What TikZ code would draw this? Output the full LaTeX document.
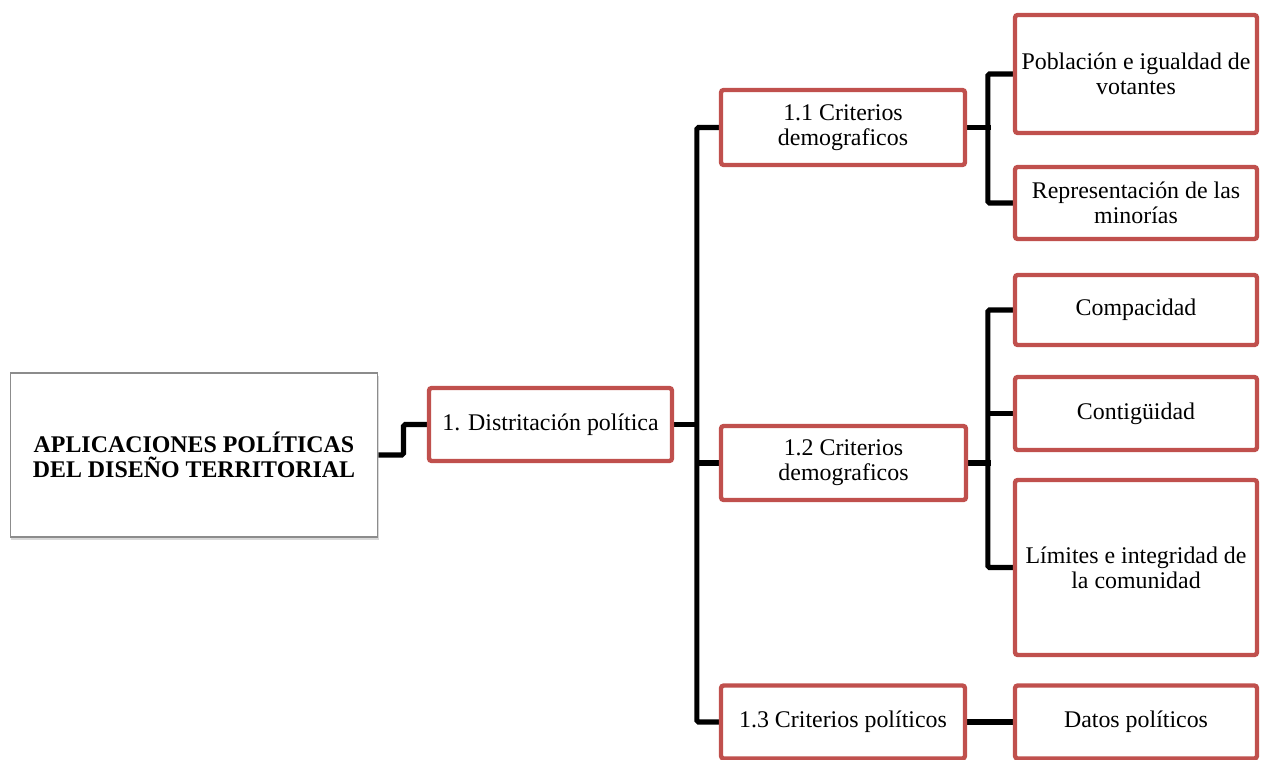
\documentclass[tikz,border=0pt]{standalone}
\usepackage{fontspec}
\setmainfont{Liberation Serif}
\usetikzlibrary{positioning, calc, shadows, backgrounds}
\definecolor{rojo}{HTML}{C0504D}

\begin{document}
\begin{tikzpicture}[x=0.02cm, y=-0.02cm,
    caja/.style={draw=rojo, line width=2.5pt, rounded corners=1.5pt, fill=white,
        align=center, inner sep=2pt, font=\fontsize{13.6}{14.4}\selectfont},
    raiz/.style={draw=gray!90, line width=0.6pt, fill=white, align=center,
        font=\bfseries\fontsize{13.6}{14}\selectfont,
        drop shadow={shadow xshift=0.6pt, shadow yshift=-1.8pt, opacity=0.3, fill=gray}},
    linea/.style={line width=2.9pt, rounded corners=1pt}
]
    \useasboundingbox (0,0) rectangle (1261,760);

    % Raiz
    \node[raiz, minimum width=7.36cm, minimum height=3.28cm] (raiz) at (194,455)
        {APLICACIONES POLÍTICAS\\DEL DISEÑO TERRITORIAL};

    % Primer nivel
    \node[caja, minimum width=4.86cm, minimum height=1.46cm] (dist) at (550.5,424.5) {1. Distritación política};

    % Criterios
    \node[caja, minimum width=4.88cm, minimum height=1.5cm] (c11) at (843,127.5) {1.1 Criterios\\demograficos};
    \node[caja, minimum width=4.9cm, minimum height=1.48cm] (c12) at (843.5,463) {1.2 Criterios\\demograficos};
    \node[caja, minimum width=4.88cm, minimum height=1.46cm] (c13) at (843,722) {1.3 Criterios políticos};

    % Hojas
    \node[caja, minimum width=4.84cm, minimum height=2.36cm] (pob) at (1136,74) {Población e igualdad de\\votantes};
    \node[caja, minimum width=4.84cm, minimum height=1.44cm] (rep) at (1136,203) {Representación de las\\minorías};
    \node[caja, minimum width=4.84cm, minimum height=1.4cm] (comp) at (1136,310) {Compacidad};
    \node[caja, minimum width=4.84cm, minimum height=1.46cm] (cont) at (1136,413.5) {Contigüidad};
    \node[caja, minimum width=4.84cm, minimum height=3.5cm] (lim) at (1136,567.5) {Límites e integridad de\\la comunidad};
    \node[caja, minimum width=4.84cm, minimum height=1.46cm] (datos) at (1136,722) {Datos políticos};

    % Conectores
    \begin{scope}[on background layer]
        \draw[linea] (raiz.east) -- ++(25,0) |- (dist.west);
        \draw[linea] (dist.east) -- ++(25,0);
        \draw[linea] (c11.west) -- ++(-22,0) |- (c13.west);
        \draw[linea] (c12.west) -- ++(-22,0);
        \draw[linea] (c11.east) -- ++(24,0);
        \draw[linea] (pob.west) -- ++(-25,0) |- (rep.west);
        \draw[linea] (c12.east) -- ++(23,0);
        \draw[linea] (comp.west) -- ++(-25,0) |- (lim.west);
        \draw[linea] (cont.west) -- ++(-25,0);
        \draw[linea] (c13.east) -- (datos.west);
    \end{scope}
\end{tikzpicture}
\end{document}
